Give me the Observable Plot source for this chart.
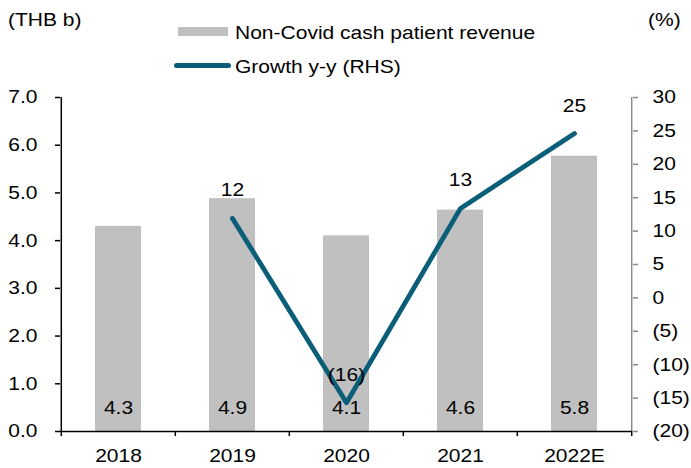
<!DOCTYPE html>
<html><head><meta charset="utf-8">
<script src="https://cdn.jsdelivr.net/npm/d3@7"></script>
<script src="https://cdn.jsdelivr.net/npm/@observablehq/plot@0.6"></script>
<style>
body{margin:0;background:#fff;}
#wrap{position:relative;width:691px;height:468px;font-family:"Liberation Sans",Arial,sans-serif;color:#000;}
.lbl{position:absolute;font-size:18.6px;line-height:19px;white-space:nowrap;transform:scaleX(1.13);transform-origin:left center;}
.sw{position:absolute;}
</style></head><body><div id="wrap"></div>
<script>
const years = ["2018", "2019", "2020", "2021", "2022E"];
const revenue = [4.30, 4.88, 4.10, 4.64, 5.77];
const revenueLabels = ["4.3", "4.9", "4.1", "4.6", "5.8"];
const growth = [null, 11.9, -15.7, 13.4, 24.6];
const growthLabels = ["", "12", "(16)", "13", "25"];
const leftTicks = [0, 1, 2, 3, 4, 5, 6, 7];
const rightTicks = [-20, -15, -10, -5, 0, 5, 10, 15, 20, 25, 30];
const seriesNames = ["Non-Covid cash patient revenue", "Growth y-y (RHS)"];
const unitLeft = "(THB b)", unitRight = "(%)";

const barColor = "#c0c0c0", lineColor = "#0a5e78", rightAxisColor = "#8a8a8a";
const W = 691, H = 468, mL = 60, mR = 59, mT = 97, mB = 37;
const FONT = "Liberation Sans, Arial, sans-serif", FS = 18.6, SX = 1.13;

const yMax = 7;
const g2y = d3.scaleLinear().domain([-20, 30]).range([0, yMax]);

const rows = years.map((y, i) => ({year: y, rev: revenue[i], revLabel: revenueLabels[i], growth: growth[i], gLabel: growthLabels[i]}));
const gRows = rows.filter(d => d.growth != null);

const step = (W - mL - mR) / years.length;
const pxPerUnit = (H - mT - mB) / yMax;

const chart = Plot.plot({
  width: W, height: H,
  marginLeft: mL, marginRight: mR, marginTop: mT, marginBottom: mB,
  style: {fontFamily: FONT, fontSize: FS + "px", color: "#000", background: "#fff", overflow: "visible"},
  x: {type: "band", domain: years, paddingInner: 0.6, paddingOuter: 0.3, align: 0.5, axis: null},
  y: {domain: [0, yMax], axis: null},
  marks: [
    Plot.barY(rows, {x: "year", y: "rev", fill: barColor}),
    Plot.text(rows, {x: "year", y: 0, text: "revLabel", lineAnchor: "bottom", dy: -18, fontSize: FS, fill: "#000"}),
    Plot.line(gRows, {x: "year", y: d => g2y(d.growth), stroke: lineColor, strokeWidth: 4.8, strokeLinecap: "round", strokeLinejoin: "round"}),
    Plot.text(gRows, {x: "year", y: d => g2y(d.growth), text: "gLabel", lineAnchor: "bottom", dy: -22, fontSize: FS, fill: "#000"}),
    // left axis
    Plot.axisY(leftTicks, {anchor: "left", tickSize: 5, tickPadding: 18, tickFormat: d3.format(".1f"), fontSize: FS, stroke: "#000", strokeWidth: 1.5, label: null}),
    // right axis
    Plot.axisY(rightTicks.map(g2y), {anchor: "right", tickSize: 5, tickPadding: 15, textAnchor: "start",
      tickFormat: v => { const g = Math.round(g2y.invert(v)); return g < 0 ? `(${-g})` : `${g}`; },
      fontSize: FS, stroke: rightAxisColor, strokeWidth: 1.5, label: null}),
    // x labels
    Plot.axisX({tickSize: 0, tickPadding: 17, fontSize: FS, label: null}),
    // category boundary ticks
    Plot.ruleX(years, {x: d => d, dx: -step / 2, y1: 0, y2: -5 / pxPerUnit, stroke: "#000", strokeWidth: 1.5}),
    Plot.ruleX([years[years.length - 1]], {x: d => d, dx: step / 2, y1: 0, y2: -5 / pxPerUnit, stroke: "#000", strokeWidth: 1.5}),
    // axis lines
    Plot.ruleX([years[0]], {x: d => d, dx: -step / 2, y1: 0, y2: yMax, stroke: "#000", strokeWidth: 1.5}),
    Plot.ruleX([years[years.length - 1]], {x: d => d, dx: step / 2, y1: 0, y2: yMax, stroke: rightAxisColor, strokeWidth: 1.5}),
    Plot.ruleY([0], {stroke: "#000", strokeWidth: 1.5})
  ]
});

// widen glyphs horizontally (reference font is wider than Liberation Sans), anchored at each text's own position
chart.querySelectorAll("text").forEach(t => {
  const tr = t.getAttribute("transform");
  if (tr) t.setAttribute("transform", tr + ` scale(${SX},1)`);
  else {
    const x = +(t.getAttribute("x") || 0), y = +(t.getAttribute("y") || 0);
    t.setAttribute("transform", `translate(${x},${y}) scale(${SX},1) translate(${-x},${-y})`);
  }
});

const wrap = document.getElementById("wrap");
wrap.appendChild(chart);

function addLabel(text, left, top) {
  const d = document.createElement("div");
  d.className = "lbl"; d.textContent = text;
  d.style.left = left + "px"; d.style.top = top + "px";
  wrap.appendChild(d);
}
function addSwatch(left, top, w, h, color, radius) {
  const d = document.createElement("div");
  d.className = "sw";
  Object.assign(d.style, {left: left + "px", top: top + "px", width: w + "px", height: h + "px", background: color, borderRadius: radius + "px"});
  wrap.appendChild(d);
}
addLabel(unitLeft, 8, 10);
addLabel(unitRight, 648, 10);
addSwatch(178, 27, 50, 9, barColor, 0);
addLabel(seriesNames[0], 235, 23);
addSwatch(174, 62.5, 57, 5, lineColor, 3);
addLabel(seriesNames[1], 235, 57);
</script></body></html>
